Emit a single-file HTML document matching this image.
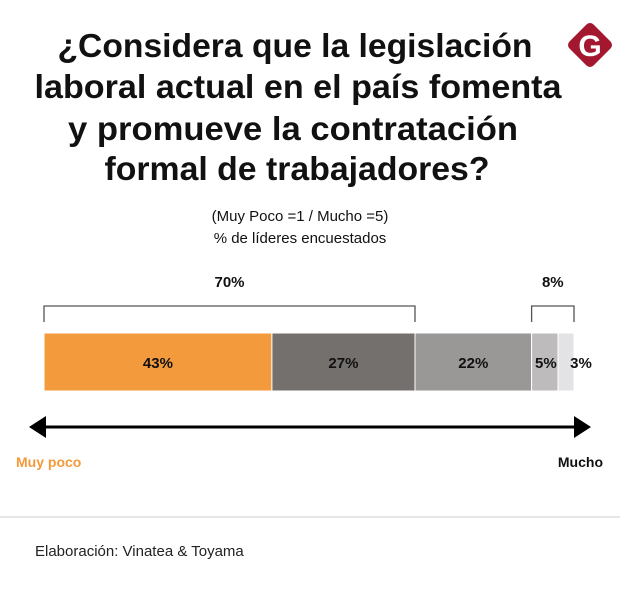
<!DOCTYPE html>
<html><head><meta charset="utf-8"><style>
body{margin:0;background:#fff}
svg{display:block}
text{font-family:"Liberation Sans",sans-serif}
</style></head><body>
<svg id="c" width="620" height="595" viewBox="0 0 620 595">
<g font-weight="bold" font-size="33" fill="#111" text-anchor="middle">
<text x="295" y="57" textLength="475" lengthAdjust="spacingAndGlyphs">¿Considera que la legislación</text>
<text x="298" y="98" textLength="527" lengthAdjust="spacingAndGlyphs">laboral  actual en el país fomenta</text>
<text x="293" y="140" textLength="450" lengthAdjust="spacingAndGlyphs">y promueve la contratación</text>
<text x="297" y="180" textLength="385" lengthAdjust="spacingAndGlyphs">formal de trabajadores?</text>
</g>
<g>
<rect x="573" y="28" width="34" height="34" rx="5" fill="#a3182e" transform="rotate(45 590 45)"/>
<text x="590" y="56" text-anchor="middle" font-size="30" font-weight="bold" fill="#fff">G</text>
</g>
<g font-size="15" fill="#111" text-anchor="middle">
<text x="300" y="221">(Muy Poco =1 / Mucho =5)</text>
<text x="300" y="243">% de líderes encuestados</text>
</g>
<g id="bars"></g>
<g id="brackets"></g>
<g>
<line x1="40" y1="427" x2="580" y2="427" stroke="#000" stroke-width="3"/>
<polygon points="29,427 46,416 46,438" fill="#000"/>
<polygon points="591,427 574,416 574,438" fill="#000"/>
</g>
<text x="16" y="467" font-size="14" font-weight="bold" fill="#f39a3c">Muy poco</text>
<text x="603" y="467" font-size="14" font-weight="bold" fill="#111" text-anchor="end">Mucho</text>
<line x1="0" y1="517" x2="620" y2="517" stroke="#ccc" stroke-width="1"/>
<text x="35" y="556" font-size="15" fill="#222">Elaboración: Vinatea &amp; Toyama</text>
</svg>
<script>
const categories=["1","2","3","4","5"];
const values=[43,27,22,5,3];
const labels=["43%","27%","22%","5%","3%"];
const groupLabels=["70%","8%"];
const groupRanges=[[0,1],[3,4]];
const colors=["#f39a3c","#74706e","#9a9797","#bdbbbb","#e3e3e5"];
const NS="http://www.w3.org/2000/svg";
const x0=44,pxPer=5.3,barY=333,barH=58;
const total=values.reduce((a,b)=>a+b,0);
function xs(v){return x0+v*pxPer*100/total;}
const gb=document.getElementById('bars');
let cum=0;const starts=[],ends=[];
values.forEach((v,i)=>{
 const r=document.createElementNS(NS,'rect');
 
 
 const a=xs(cum),b=xs(cum+v);starts.push(a);ends.push(b);
 r.setAttribute('x',a);r.setAttribute('y',barY);r.setAttribute('width',b-a);r.setAttribute('height',barH);
 r.setAttribute('fill',colors[i]);r.setAttribute('stroke','#fff');r.setAttribute('stroke-width','1');
 gb.appendChild(r);
 const t=document.createElementNS(NS,'text');
 
 
 let tx=(a+b)/2; if(i==3) tx=(a+b)/2+1; if(i==4) tx=b+7;
 t.setAttribute('x',tx);t.setAttribute('y',barY+barH/2+6);
 t.setAttribute('text-anchor','middle');t.setAttribute('font-size','15');t.setAttribute('font-weight','bold');t.setAttribute('fill','#111');
 t.textContent=labels[i];gb.appendChild(t);
 cum+=v;
});
const gk=document.getElementById('brackets');
groupRanges.forEach((g,i)=>{
 const a=starts[g[0]],b=ends[g[1]];
 const p=document.createElementNS(NS,'path');
 
 
 p.setAttribute('d',`M${a},322V306H${b}V322`);p.setAttribute('fill','none');p.setAttribute('stroke','#555');p.setAttribute('stroke-width','1.3');
 gk.appendChild(p);
 const t=document.createElementNS(NS,'text');
 
 
 t.setAttribute('x',(a+b)/2);t.setAttribute('y',287);t.setAttribute('text-anchor','middle');
 t.setAttribute('font-size','15');t.setAttribute('font-weight','bold');t.setAttribute('fill','#111');
 t.textContent=groupLabels[i];gk.appendChild(t);
});
</script>
</body></html>
